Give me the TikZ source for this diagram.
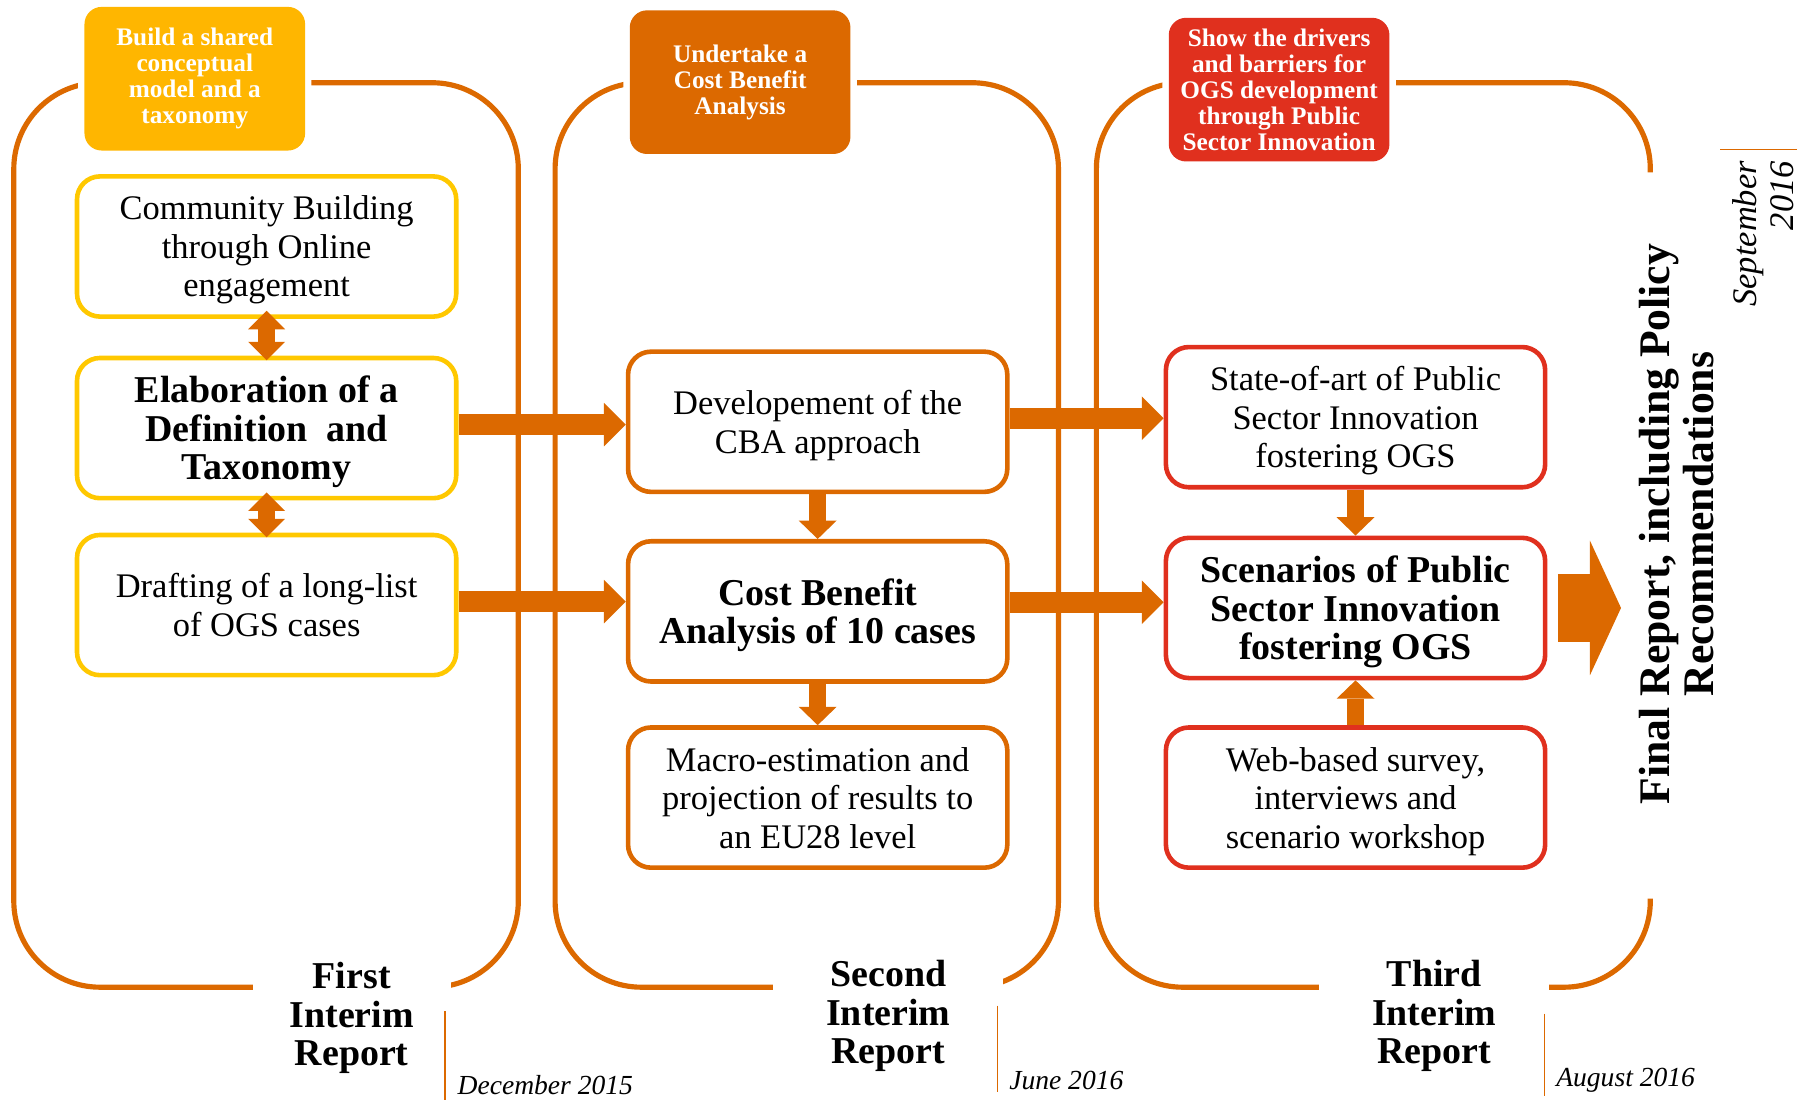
\documentclass[tikz,border=0pt]{standalone}
\usepackage{fontspec}
\setmainfont{Liberation Serif}
\usepackage{xcolor}
\definecolor{pwcOrange}{RGB}{220,105,0}
\definecolor{pwcYellow}{RGB}{255,182,0}
\definecolor{pwcGold}{RGB}{255,200,0}
\definecolor{pwcRed}{RGB}{224,48,30}
\usetikzlibrary{arrows.meta, positioning}
\tikzset{
  phaseline/.style={draw=pwcOrange, line width=4.5pt, rounded corners=75pt},
  aimbox/.style={fill=#1, rounded corners=15pt, minimum width=192pt, minimum height=125pt, inner sep=1pt, text=white, align=center, font=\fontsize{22}{22.5}\selectfont\bfseries, preaction={draw=white, line width=11pt}},
  taskbox/.style={draw=#1, fill=white, line width=4pt, rounded corners=20pt, minimum width=330pt, minimum height=122pt, text depth=-3pt, align=center, font=\fontsize{30}{33.5}\selectfont},
  keybox/.style={taskbox=#1, font=\fontsize{33}{33.5}\selectfont\bfseries},
  reportlabel/.style={fill=white, minimum width=#1, inner sep=0pt, align=center, font=\fontsize{33}{33.5}\selectfont\bfseries},
  datelabel/.style={anchor=west, inner sep=0pt, font=\fontsize{24}{24}\selectfont\itshape},
  dateline/.style={draw=pwcOrange, line width=1.5pt},
  flowarrow/.style={draw=pwcOrange, line width=18pt, -{Triangle[width=38pt,length=19pt,line width=0pt]}},
  feedarrow/.style={draw=pwcOrange, line width=15pt, -{Triangle[width=33pt,length=16pt,line width=0pt]}},
  linkarrow/.style={draw=pwcOrange, line width=15pt, {Triangle[width=32pt,length=16pt,line width=0pt]}-{Triangle[width=32pt,length=16pt,line width=0pt]}},
  finalarrow/.style={draw=pwcOrange, line width=59pt, -{Triangle[width=117pt,length=27pt,line width=0pt]}},
}
\begin{document}
\begin{tikzpicture}[x=1pt, y=-1pt]
\useasboundingbox (0,0) rectangle (1568,957);
\draw[phaseline] (12,72) rectangle (451,859);
\draw[phaseline] (483,72) rectangle (921,859);
\draw[phaseline] (1436,150) -- (1436,72) -- (954,72) -- (954,859) -- (1436,859) -- (1436,782);

\node[aimbox=pwcYellow] (aim1) at (169.5,68.5) {Build a shared\\conceptual\\model and a\\taxonomy};
\node[aimbox=pwcOrange] (aim2) at (644,71.5) {Undertake a\\Cost Benefit\\Analysis};
\node[aimbox=pwcRed] (aim3) at (1113,78) {Show the drivers\\and barriers for\\OGS development\\through Public\\Sector Innovation};

\node[taskbox=pwcGold] (s11) at (232,214.5) {Community Building\\through Online\\engagement};
\node[keybox=pwcGold, below=32pt of s11] (s12) {Elaboration of a\\Definition\ \ and\\Taxonomy};
\node[taskbox=pwcGold, below=28pt of s12] (s13) {Drafting of a long-list\\of OGS cases};

\node[taskbox=pwcOrange] (s21) at (711.5,367) {Developement of the\\CBA approach};
\node[keybox=pwcOrange, below=39pt of s21] (s22) {Cost Benefit\\Analysis of 10 cases};
\node[taskbox=pwcOrange, below=36pt of s22] (s23) {Macro-estimation and\\projection of results to\\an EU28 level};

\node[taskbox=pwcRed] (s31) at (1179.5,363) {State-of-art of Public\\Sector Innovation\\fostering OGS};
\node[keybox=pwcRed, below=40pt of s31] (s32) {Scenarios of Public\\Sector Innovation\\fostering OGS};
\node[taskbox=pwcRed, below=39pt of s32] (s33) {Web-based survey,\\interviews and\\scenario workshop};

\node[rotate=90, align=center, font=\fontsize{38}{38}\selectfont\bfseries] (final) at (1459,456) {Final Report, including Policy\\Recommendations};
\coordinate (finin) at ([xshift=64pt]s32.east);

\draw[linkarrow, shorten <=-7pt, shorten >=-4pt] (s11.south) -- (s12.north);
\draw[linkarrow, shorten <=-7pt, shorten >=-4pt] (s12.south) -- (s13.north);
\draw[feedarrow] (s21.south) -- (s22.north);
\draw[feedarrow] (s22.south) -- (s23.north);
\draw[feedarrow] (s31.south) -- (s32.north);
\draw[feedarrow] (s33.north) -- (s32.south);
\draw[flowarrow] ([yshift=3pt]s12.east) -- ([yshift=3pt]s12.east -| s21.west);
\draw[flowarrow] ([yshift=3pt]s13.east) -- ([yshift=3pt]s13.east -| s22.west);
\draw[flowarrow] ([yshift=3pt]s21.east) -- ([yshift=3pt]s21.east -| s31.west);
\draw[flowarrow] ([yshift=8pt]s22.east) -- ([yshift=8pt]s22.east -| s32.west);
\draw[finalarrow] ([xshift=9pt]s32.east) -- (finin);

\node[reportlabel=172pt] (rep1) at (306,886) {First\\Interim\\Report};
\node[reportlabel=200pt] (rep2) at (773,884) {Second\\Interim\\Report};
\node[reportlabel=200pt] (rep3) at (1248,884) {Third\\Interim\\Report};

\draw[dateline] (387,880) -- (387,957);
\draw[dateline] (868,875) -- (868,950);
\draw[dateline] (1344,882) -- (1344,954);
\draw[dateline] (1497,130) -- (1564,130);
\node[datelabel] (dec) at (398,944) {December 2015};
\node[datelabel] (jun) at (878,940) {June 2016};
\node[datelabel] (aug) at (1354,940) {August 2016};
\node[rotate=90, anchor=east, align=right, inner sep=0pt, font=\fontsize{30}{32}\selectfont\itshape] (sept) at (1534,140) {September\\2016};
\end{tikzpicture}
\end{document}
